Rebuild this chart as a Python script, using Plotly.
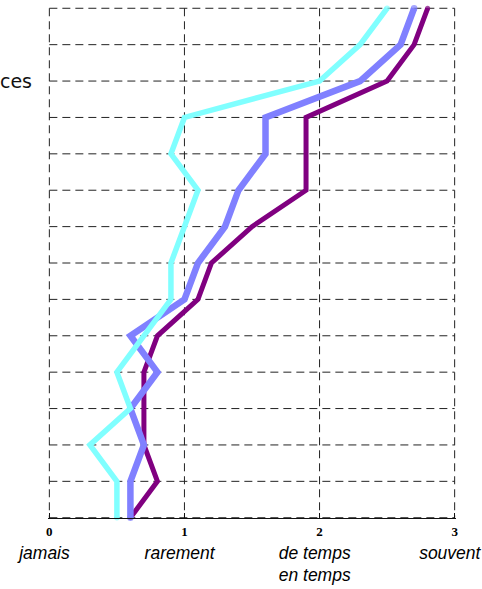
import plotly.graph_objects as go

# ---- data ----
rows = list(range(15))  # item positions, top to bottom
row_labels = ["", "", "ces", "", "", "", "", "", "", "", "", "", "", "", ""]
x_ticks = [0, 1, 2, 3]
x_words = ["jamais", "rarement", "de temps<br>en temps", "souvent"]

purple = [2.8, 2.7, 2.5, 1.9, 1.9, 1.9, 1.5, 1.2, 1.1, 0.8, 0.7, 0.7, 0.7, 0.8, 0.6]
blue = [2.7, 2.6, 2.3, 1.6, 1.6, 1.4, 1.3, 1.1, 1.0, 0.6, 0.8, 0.6, 0.7, 0.6, 0.6]
cyan = [2.5, 2.3, 2.0, 1.0, 0.9, 1.1, 1.0, 0.9, 0.9, 0.7, 0.5, 0.6, 0.3, 0.5, 0.5]

series = [
    ("purple", purple, "#800080", 5),
    ("blue", blue, "#8080FF", 6.5),
    ("cyan", cyan, "#80FFFF", 5.5),
]

fig = go.Figure()
for name, vals, col, w in series:
    n = len(vals)
    sizes = [w if i in (0, n - 1) else 0 for i in range(n)]
    fig.add_trace(go.Scatter(
        x=vals, y=rows, mode="lines+markers", name=name,
        line=dict(color=col, width=w),
        marker=dict(color=col, size=sizes, line=dict(width=0)),
        cliponaxis=False, showlegend=False, hoverinfo="skip",
    ))

# dashed grid drawn as shapes within the data range
grid = dict(color="#222222", width=1, dash="8px,5px")
for xv in x_ticks:
    fig.add_shape(type="line", xref="x", yref="y", x0=xv, x1=xv,
                  y0=rows[0], y1=rows[-1], line=grid, layer="below")
for yv in rows:
    fig.add_shape(type="line", xref="x", yref="y", x0=x_ticks[0], x1=x_ticks[-1],
                  y0=yv, y1=yv, line=grid, layer="below")

pad = 0.2
sp = "&nbsp;&nbsp;"
ticktext = []
for v, w in zip(x_ticks, x_words):
    lines = [f"<i>{part}</i>{sp}" for part in w.split("<br>")]
    ticktext.append(
        f"<b><span style=\"font-family:'Liberation Serif';font-weight:bold;font-size:13px\">{v}</span></b><br>"
        + "<br>".join(lines)
    )

fig.update_layout(
    width=482, height=589,
    margin=dict(l=48, r=26, t=1, b=64),
    paper_bgcolor="white", plot_bgcolor="white",
    xaxis=dict(
        range=[-0.01, 3.01], tickvals=x_ticks, ticktext=ticktext,
        showgrid=False, zeroline=False, automargin=False,
        showline=True, linecolor="#111111", linewidth=1.3,
        ticks="inside", ticklen=5, tickcolor="#111111", tickwidth=1,
        anchor="free", position=pad / (rows[-1] - rows[0] + 2 * pad),
        tickfont=dict(family="Liberation Sans", size=17.5, color="black"),
        ticklabelstandoff=-4, ticklabeloverflow="allow",
    ),
    yaxis=dict(
        range=[rows[-1] + pad, rows[0] - pad], tickvals=rows, ticktext=row_labels,
        showgrid=False, zeroline=False, showline=False, ticks="", automargin=False,
        tickfont=dict(family="DejaVu Sans", size=19, color="#111111"),
        ticklabelstandoff=15, ticklabeloverflow="allow",
    ),
)

fig.write_html(
    "out.html",
    config={"displayModeBar": False},
    post_script="document.body.style.margin='0px';document.body.style.overflow='hidden';",
)
